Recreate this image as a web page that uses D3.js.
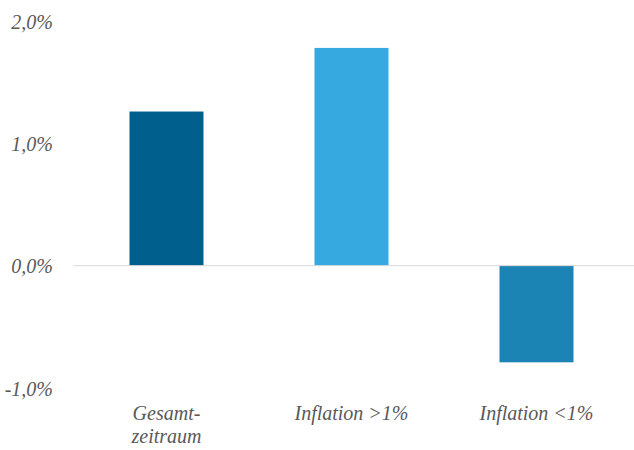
<!DOCTYPE html>
<html>
<head>
<meta charset="utf-8">
<script src="https://cdn.jsdelivr.net/npm/d3@7"></script>
<style>
  html, body { margin: 0; padding: 0; background: #fff; }
  svg text { font-family: "Liberation Serif", "DejaVu Serif", serif; font-style: italic; fill: #595959; }
</style>
</head>
<body>
<svg id="chart" width="634" height="450"></svg>
<script>
// Bar chart data
const categories = [["Gesamt-", "zeitraum"], ["Inflation >1%"], ["Inflation <1%"]];
const values = [0.0126, 0.0178, -0.0079];
const colors = ["#015f8e", "#37a9e1", "#1c83b5"];
const yTicks = [-0.01, 0, 0.01, 0.02];

const svg = d3.select("#chart");
const fmt = v => d3.format(".1f")(v * 100).replace(".", ",").replace("\u2212", "-") + "%";

const y = d3.scaleLinear().domain([-0.01, 0.02]).range([388, 21]);
const x = d3.scaleBand().domain(d3.range(categories.length)).range([74, 629]).paddingInner(0.6).paddingOuter(0.3);

// value axis labels (no line, no ticks)
const yAxis = d3.axisLeft(y).tickValues(yTicks).tickFormat(fmt).tickSize(0).tickPadding(0);
const gy = svg.append("g").attr("transform", "translate(53,0)").call(yAxis)
  .attr("font-size", null).attr("font-family", null);
gy.select(".domain").remove();
gy.selectAll("text").style("font-size", "20px").attr("fill", "#595959").attr("dy", "0.35em");

// bars
svg.append("g").selectAll("rect").data(values).join("rect")
  .attr("x", (d, i) => x(i))
  .attr("width", x.bandwidth())
  .attr("y", d => y(Math.max(0, d)))
  .attr("height", d => Math.abs(y(d) - y(0)))
  .attr("fill", (d, i) => colors[i]);

// zero baseline
svg.append("line")
  .attr("x1", 73).attr("x2", 634)
  .attr("y1", y(0)).attr("y2", y(0))
  .attr("stroke", "#d9d9d9").attr("stroke-width", 1);

// category labels
const gx = svg.append("g");
categories.forEach((lines, i) => {
  const t = gx.append("text")
    .attr("x", x(i) + x.bandwidth() / 2)
    .attr("y", 420)
    .attr("text-anchor", "middle")
    .style("font-size", "20px");
  lines.forEach((ln, j) => {
    t.append("tspan").attr("x", x(i) + x.bandwidth() / 2).attr("dy", j ? 23 : 0).text(ln);
  });
});
</script>
</body>
</html>
